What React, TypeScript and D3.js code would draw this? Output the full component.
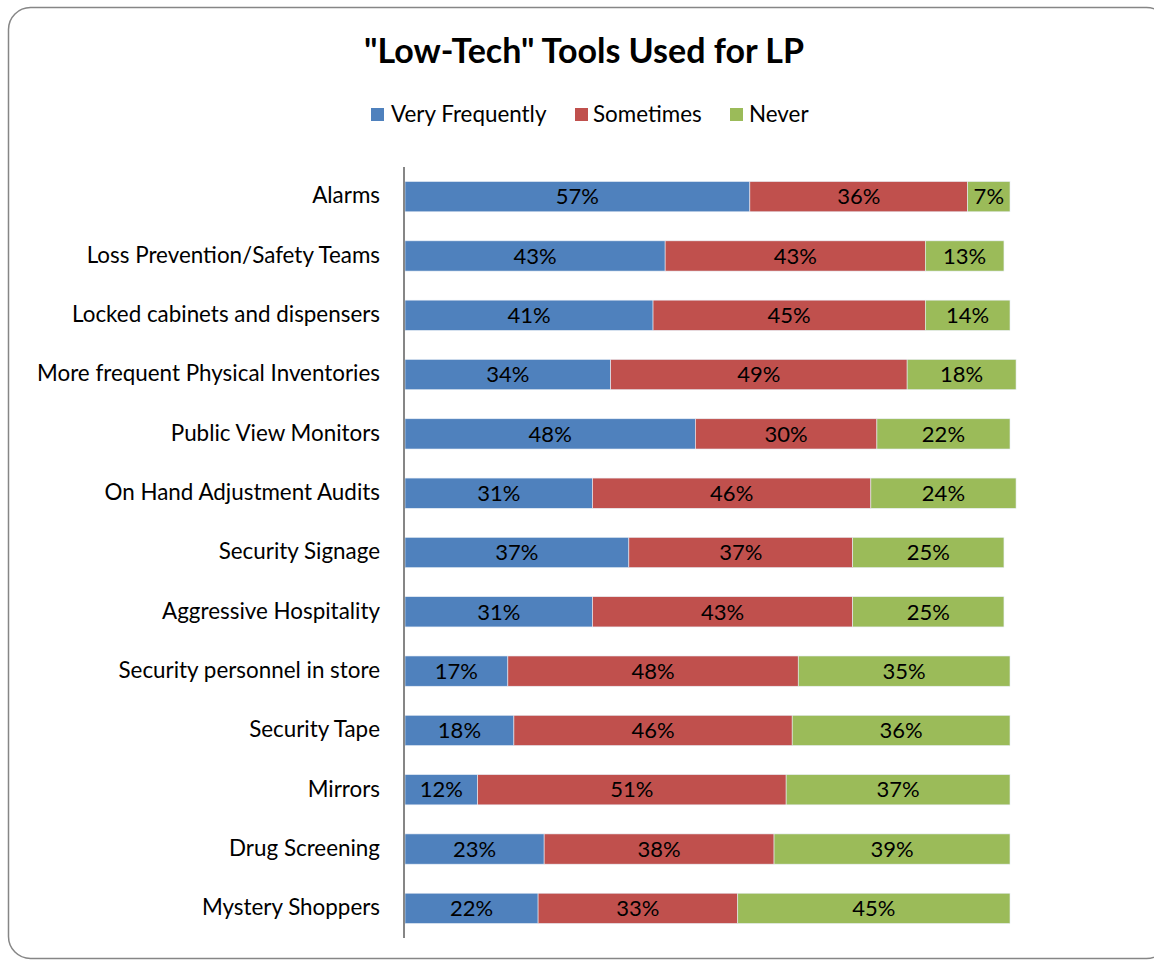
import React from "react";
import * as d3 from "d3";

const categories = [
  "Alarms",
  "Loss Prevention/Safety Teams",
  "Locked cabinets and dispensers",
  "More frequent Physical Inventories",
  "Public View Monitors",
  "On Hand Adjustment Audits",
  "Security Signage",
  "Aggressive Hospitality",
  "Security personnel in store",
  "Security Tape",
  "Mirrors",
  "Drug Screening",
  "Mystery Shoppers",
];
const veryFrequently = [57, 43, 41, 34, 48, 31, 37, 31, 17, 18, 12, 23, 22];
const sometimes = [36, 43, 45, 49, 30, 46, 37, 43, 48, 46, 51, 38, 33];
const never = [7, 13, 14, 18, 22, 24, 25, 25, 35, 36, 37, 39, 45];
const seriesNames = ["Very Frequently", "Sometimes", "Never"];
const seriesColors = ["#4F81BD", "#C0504D", "#9BBB59"];
const title = "\"Low-Tech\" Tools Used for LP";

const W = 1154;
const H = 960;
const FONT = "Lato, 'Open Sans', sans-serif";

export default function App() {
  const rows = categories.map((c, i) => ({
    cat: c,
    vals: [veryFrequently[i], sometimes[i], never[i]],
  }));
  const x = d3.scaleLinear().domain([0, 100]).range([405, 1010]);
  const y = d3
    .scaleBand<string>()
    .domain(categories)
    .range([167, 938])
    .paddingInner(0.49)
    .paddingOuter(0.245);

  const legendItems = [
    { x: 371, textX: 391 },
    { x: 575, textX: 593 },
    { x: 730, textX: 749 },
  ];

  return (
    <div style={{ position: "absolute", left: 0, top: 0 }}>
      <svg width={W} height={H} style={{ display: "block" }}>
        <rect x={0} y={0} width={W} height={H} fill="#fff" />
        <rect
          x={8.5}
          y={7.5}
          width={1160}
          height={951}
          rx={22}
          ry={22}
          fill="#fff"
          stroke="#868686"
          strokeWidth={1.5}
        />
        <text
          x={584}
          y={63}
          textAnchor="middle"
          fontFamily={FONT}
          fontWeight="bold"
          fontSize={34}
          fill="#000"
        >
          {title}
        </text>
        {seriesNames.map((s, i) => (
          <g key={s}>
            <rect x={legendItems[i].x} y={108} width={13} height={13} fill={seriesColors[i]} />
            <text x={legendItems[i].textX} y={122} fontFamily={FONT} fontSize={22.4} fill="#000">
              {s}
            </text>
          </g>
        ))}
        {rows.map((r) => {
          const y0 = y(r.cat)!;
          const bh = y.bandwidth();
          let acc = 0;
          return (
            <g key={r.cat}>
              <text
                x={380}
                y={y0 + bh / 2 - 1}
                dy="0.35em"
                textAnchor="end"
                fontFamily={FONT}
                fontSize={22.4}
                fill="#000"
              >
                {r.cat}
              </text>
              {r.vals.map((v, j) => {
                const x0 = x(acc);
                acc += v;
                const x1 = x(acc);
                return (
                  <g key={j}>
                    <rect
                      x={x0}
                      y={y0}
                      width={x1 - x0}
                      height={bh}
                      fill={seriesColors[j]}
                      stroke="#e8eef6"
                      strokeWidth={0.6}
                    />
                    <text
                      x={(x0 + x1) / 2}
                      y={y0 + bh / 2}
                      dy="0.35em"
                      textAnchor="middle"
                      fontFamily={FONT}
                      fontSize={22}
                      fill="#000"
                    >
                      {v}%
                    </text>
                  </g>
                );
              })}
            </g>
          );
        })}
        <line x1={404} x2={404} y1={167} y2={938} stroke="#868686" strokeWidth={2} />
      </svg>
    </div>
  );
}
